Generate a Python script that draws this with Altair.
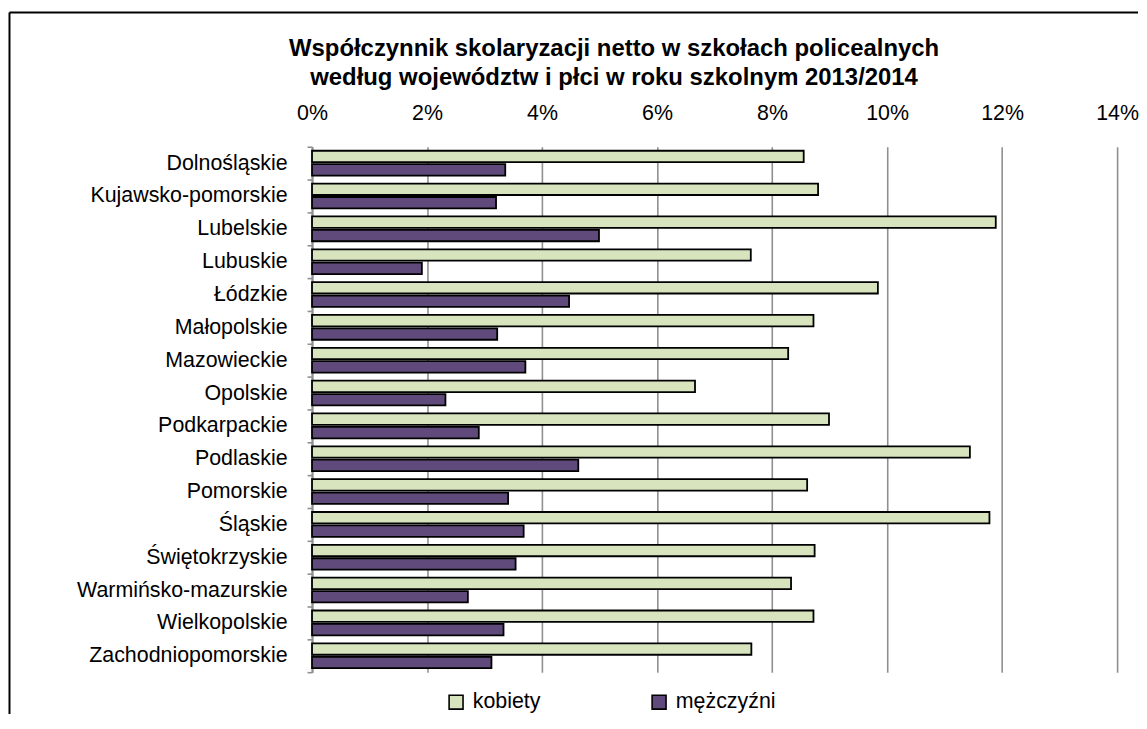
import altair as alt
import pandas as pd

# ---- data ----
regions = ["Dolnośląskie", "Kujawsko-pomorskie", "Lubelskie", "Lubuskie", "Łódzkie",
           "Małopolskie", "Mazowieckie", "Opolskie", "Podkarpackie", "Podlaskie",
           "Pomorskie", "Śląskie", "Świętokrzyskie", "Warmińsko-mazurskie",
           "Wielkopolskie", "Zachodniopomorskie"]
kobiety = [8.55, 8.80, 11.89, 7.63, 9.84, 8.72, 8.28, 6.66, 8.99, 11.44,
           8.61, 11.78, 8.74, 8.33, 8.72, 7.64]
mezczyzni = [3.36, 3.20, 4.99, 1.91, 4.47, 3.22, 3.71, 2.32, 2.90, 4.63,
             3.41, 3.68, 3.54, 2.71, 3.33, 3.12]
series = ["kobiety", "mężczyźni"]
colors = ["#D7E4BD", "#604A7B"]
x_ticks = [0, 0.02, 0.04, 0.06, 0.08, 0.10, 0.12, 0.14]
title_lines = ["Współczynnik skolaryzacji netto w szkołach policealnych",
               "według województw  i płci w roku szkolnym 2013/2014"]

df = pd.DataFrame({
    "region": regions * 2,
    "plec": [series[0]] * len(regions) + [series[1]] * len(regions),
    "wartosc": [v / 100 for v in kobiety] + [v / 100 for v in mezczyzni],
})
one = pd.DataFrame({"k": [0]})

FONT = "Liberation Sans"
GRID = "#8f8f8f"

bars = alt.Chart(df).mark_bar(stroke="black", strokeWidth=1.8).encode(
    x=alt.X("wartosc:Q",
            scale=alt.Scale(domain=[0, 0.14], nice=False, zero=True),
            axis=alt.Axis(orient="top", format=".0%", values=x_ticks, title=None,
                          grid=True, gridColor=GRID, gridWidth=1.6, gridOpacity=1,
                          domain=False, ticks=False, labelPadding=22, labelFlush=False,
                          labelFontSize=21.5, labelColor="black", labelFont=FONT)),
    y=alt.Y("region:N", sort=regions,
            scale=alt.Scale(paddingInner=0, paddingOuter=0),
            axis=alt.Axis(title=None, tickBand="extent", domainColor=GRID,
                          domainWidth=2, tickColor=GRID, tickWidth=1.6, tickSize=5,
                          labelPadding=20, labelFontSize=21.5, labelColor="black",
                          labelFont=FONT, labelLimit=400, grid=False)),
    yOffset=alt.YOffset("plec:N", sort=series,
                        scale=alt.Scale(paddingInner=0.15, paddingOuter=0.3)),
    fill=alt.Fill("plec:N", sort=series,
                  scale=alt.Scale(domain=series, range=colors),
                  legend=alt.Legend(title=None, orient="none", legendX=134, legendY=547,
                                    direction="horizontal", columnPadding=108,
                                    symbolType="square", symbolSize=196,
                                    symbolStrokeColor="black", symbolStrokeWidth=1.6,
                                    labelFontSize=21.5, labelFont=FONT, labelColor="black",
                                    labelOffset=6, padding=0)),
)

frame_top = alt.Chart(one).mark_rule(color="black", strokeWidth=2).encode(
    x=alt.value(-304), x2=alt.value(830), y=alt.value(-135))
frame_left = alt.Chart(one).mark_rule(color="black", strokeWidth=2).encode(
    x=alt.value(-304), y=alt.value(-135), y2=alt.value(572))

title1 = alt.Chart(one).mark_text(text=title_lines[0], font=FONT, fontSize=24,
                                  fontWeight="bold", color="black", align="center",
                                  baseline="middle").encode(
    x=alt.value(303.5), y=alt.value(-98.5))
title2 = alt.Chart(one).mark_text(text=title_lines[1], font=FONT, fontSize=24,
                                  fontWeight="bold", color="black", align="center",
                                  baseline="middle").encode(
    x=alt.value(303.5), y=alt.value(-69.5))

chart = alt.layer(frame_top, frame_left, title1, title2, bars).properties(
    width=809, height=528,
    autosize=alt.AutoSizeParams(type="none"),
    padding={"left": 305.5, "top": 137.7, "right": 22, "bottom": 40},
).configure_view(stroke=None)

chart.save("out.html", embed_options={"renderer": "svg", "actions": False})
